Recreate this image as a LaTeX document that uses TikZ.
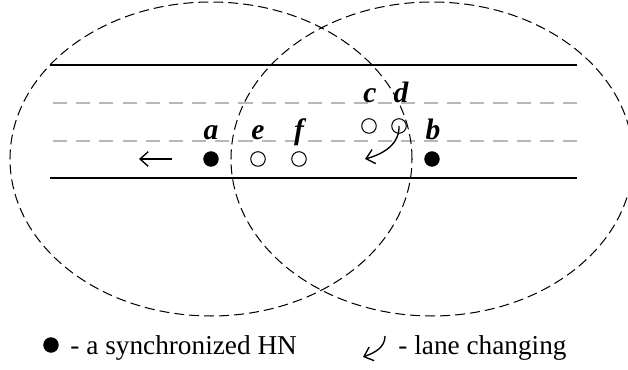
\documentclass[tikz,border=0pt]{standalone}
\usepackage{fontspec}
\setmainfont{Liberation Serif}
\usetikzlibrary{calc,arrows.meta}

\begin{document}
\begin{tikzpicture}[x=0.44pt,y=0.44pt,font=\fontsize{12}{14}\selectfont]
  \tikzset{hn/.style={shape=circle,draw,fill,inner sep=0pt,minimum size=6.4pt}};
  \tikzset{car/.style={shape=circle,draw,fill=white,inner sep=0pt,minimum size=6.4pt,line width=0.45pt}};
  \tikzset{lab/.style={font=\fontsize{13}{15}\selectfont\bfseries\itshape,anchor=base,inner sep=0pt}};
  \tikzset{reach/.style={dash pattern=on 4.4pt off 2.2pt,line width=0.45pt}};
  \tikzset{lane/.style={black!28,line width=0.9pt,dash pattern=on 6.2pt off 4pt}};
  \tikzset{road/.style={line width=0.9pt}};
  \tikzset{move/.style={line width=0.6pt,arrows={->},>={Straight Barb[length=3.6pt,width=6.4pt]}}};
  \useasboundingbox (0,0) rectangle (628,370);
  \draw[road] (50,305) -- (577,305);
  \draw[road] (50,192) -- (577,192);
  \draw[lane] (53,267) -- (577,267);
  \draw[lane] (53,229) -- (577,229);
  \node[hn] (a) at (211,211){};
  \node[hn] (b) at (432,211){};
  \node[car] (e) at (258,211){};
  \node[car] (f) at (299,211){};
  \node[car] (c) at (369,244){};
  \node[car] (d) at (399,244){};
  \node[lab] (la) at ($(a)+(0,19)$) {a};
  \node[lab] (lb) at ($(b)+(1,19)$) {b};
  \node[lab] (le) at ($(e)+(0,19)$) {e};
  \node[lab] (lf) at ($(f)+(0,19)$) {f};
  \node[lab] (lc) at ($(c)+(1,23)$) {c};
  \node[lab] (ld) at ($(d)+(2,23)$) {d};
  \draw[reach] (a.center) ellipse [x radius=201, y radius=157];
  \draw[reach] (b.center) ellipse [x radius=201, y radius=157];
  \coordinate (go) at (172,211);
  \coordinate (gone) at (139,211);
  \draw[move] (go) -- (gone);
  \coordinate (turn) at (365,211);
  \draw[move] (d.center) to[out=-88,in=15] (turn);
  % legend
  \node[hn] (key) at (51,25){};
  \node[anchor=base west,inner sep=0pt] (keytext) at (70,15) {- a synchronized HN};
  \coordinate (ks) at (385,34);
  \coordinate (ke) at (363,13);
  \draw[move] (ks) to[out=-90,in=20] (ke);
  \node[anchor=base west,inner sep=0pt] (kstext) at (398,15) {- lane changing};
\end{tikzpicture}
\end{document}
